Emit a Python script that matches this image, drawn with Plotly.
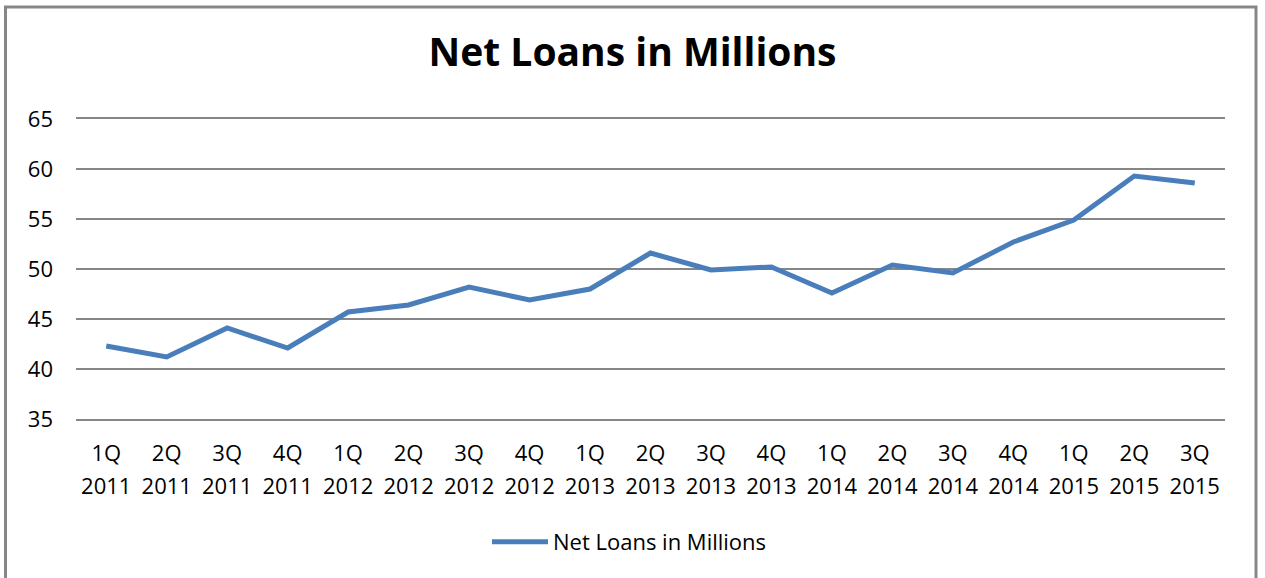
import plotly.graph_objects as go

quarters = ["1Q", "2Q", "3Q", "4Q", "1Q", "2Q", "3Q", "4Q", "1Q", "2Q",
            "3Q", "4Q", "1Q", "2Q", "3Q", "4Q", "1Q", "2Q", "3Q"]
years = ["2011", "2011", "2011", "2011", "2012", "2012", "2012", "2012", "2013", "2013",
         "2013", "2013", "2014", "2014", "2014", "2014", "2015", "2015", "2015"]
net_loans = [42.3, 41.2, 44.1, 42.1, 45.7, 46.4, 48.2, 46.9, 48.0, 51.6,
             49.9, 50.2, 47.6, 50.4, 49.6, 52.7, 54.9, 59.3, 58.6]
series_name = "Net Loans in Millions"
title_text = "Net Loans in Millions"
y_ticks = [35, 40, 45, 50, 55, 60, 65]

categories = [f"{q} {y}" for q, y in zip(quarters, years)]

FONT = "Open Sans"
GRID = "#868686"

fig = go.Figure()
fig.add_trace(go.Scatter(
    x=categories, y=net_loans, mode="lines", name=series_name,
    line=dict(color="#4A7EBB", width=5),
))
# carrier for the second (year) tick-label row; not drawn
fig.add_trace(go.Scatter(
    x=categories, y=net_loans, mode="lines", xaxis="x2", showlegend=False,
    hoverinfo="skip", opacity=0, line=dict(width=0),
))

axis_common = dict(type="category", categoryorder="array", categoryarray=categories,
                   range=[-0.5, len(categories) - 0.5], tickmode="array",
                   tickvals=categories, showgrid=False, zeroline=False, ticks="",
                   tickfont=dict(family=FONT, size=22))

fig.update_layout(
    width=1265, height=578,
    margin=dict(l=76, r=40, t=119, b=159),
    paper_bgcolor="white", plot_bgcolor="white",
    font=dict(family=FONT, size=22, color="black"),
    title=dict(text=f"<b>{title_text}</b>", x=0.5, xanchor="center",
               y=1 - 52 / 578, yanchor="middle", yref="container",
               font=dict(family=FONT, size=39, color="black")),
    showlegend=True,
    legend=dict(orientation="h", x=(487 - 76) / 1149, xanchor="left",
                y=(419 - 542) / 300, yanchor="middle",
                itemwidth=56, font=dict(family=FONT, size=22, color="black"),
                bgcolor="rgba(0,0,0,0)"),
    xaxis=dict(**axis_common, ticktext=quarters, ticklabelstandoff=14,
               showline=True, mirror=True, linecolor=GRID, linewidth=1.5),
    xaxis2=dict(**axis_common, ticktext=years, overlaying="x", anchor="y",
                side="bottom", ticklabelstandoff=52, showline=False),
    yaxis=dict(range=[35, 65], tickmode="array", tickvals=y_ticks,
               showgrid=True, gridcolor=GRID, gridwidth=1.5,
               zeroline=False, showline=False, ticks="",
               ticklabelstandoff=22, tickfont=dict(family=FONT, size=22)),
    shapes=[dict(type="rect", xref="paper", yref="paper",
                 x0=(5.5 - 76) / 1149, x1=(1256 - 76) / 1149,
                 y0=(419 - 620) / 300, y1=(419 - 7) / 300,
                 line=dict(color="#878787", width=3), fillcolor="rgba(0,0,0,0)",
                 layer="below")],
)

fig.write_html("out.html")
